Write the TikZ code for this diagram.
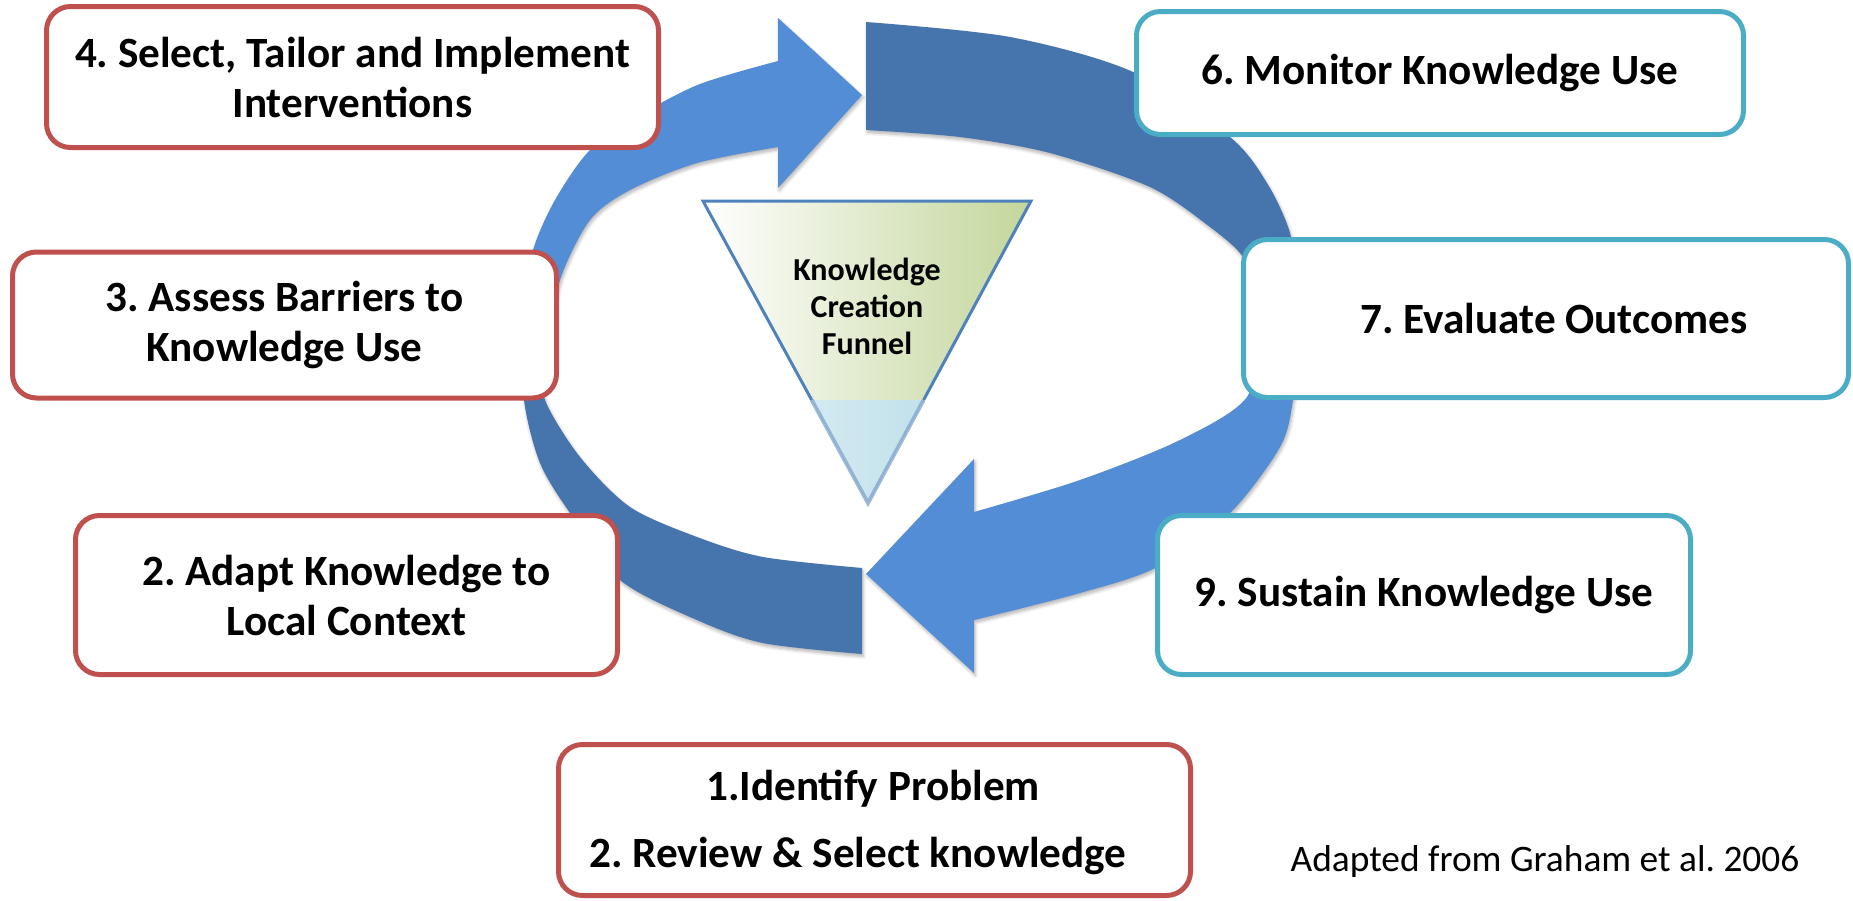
\documentclass[tikz,border=0pt]{standalone}
\usepackage{fontspec}
\setmainfont{Carlito}
\usetikzlibrary{shadows.blur}
\frenchspacing

\definecolor{arrowlight}{HTML}{538DD5}
\definecolor{arrowdark}{HTML}{4674AD}
\definecolor{boxred}{HTML}{C0504D}
\definecolor{boxcyan}{HTML}{4BACC6}
\definecolor{funnelline}{HTML}{4F81BD}
\definecolor{funnelgreen}{HTML}{C3D69B}
\definecolor{funnelblueL}{HTML}{D3EAF1}
\definecolor{funnelblueR}{HTML}{C2E1EB}
\definecolor{funnelsoft}{HTML}{86A9CF}

\tikzset{
  ringshadow/.style={blur shadow={shadow xshift=0.6pt, shadow yshift=-1.3pt,
      shadow blur radius=1.6pt, shadow blur steps=6, shadow opacity=30}},
  stagebox/.style={draw, line width=2.5pt, rounded corners=12pt, fill=white,
      align=center, inner sep=0pt,
      font=\fontsize{21.6pt}{25pt}\selectfont\bfseries},
  redbox/.style={stagebox, draw=boxred},
  cyanbox/.style={stagebox, draw=boxcyan},
  boxline/.style={inner sep=0pt, anchor=base,
      font=\fontsize{21.6pt}{25pt}\selectfont\bfseries},
  funneltext/.style={align=center, inner sep=0pt,
      font=\fontsize{16pt}{18.5pt}\selectfont\bfseries},
  note/.style={inner sep=0pt, font=\fontsize{18.7pt}{22pt}\selectfont}
}

\begin{document}
\begin{tikzpicture}[x=0.5pt, y=-0.5pt]
\useasboundingbox (0,0) rectangle (1853,900);

% ---- action cycle: four curved bands ----
% upper-left arrow, pointing right at the top
\fill[arrowlight, ringshadow]
  plot[smooth] coordinates {(525,345) (526,300) (533,250) (555,200) (590,150)
      (640,115) (700,84) (778,61)}
  -- (778,18) -- (862,95) -- (778,188) -- (778,147)
  -- plot[smooth] coordinates {(778,147) (697,163) (630,190) (590,220)
      (560,280) (550,345)}
  -- cycle;

% upper-right band
\fill[arrowdark, ringshadow]
  plot[smooth] coordinates {(866,22) (1010,37) (1133,72) (1230,137)
      (1267,183) (1290,233) (1298,290) (1299,330)}
  -- (1257,330)
  -- plot[smooth] coordinates {(1257,330) (1250,290) (1243,257) (1210,227)
      (1150,187) (1050,153) (960,137) (866,130)}
  -- cycle;

% lower-right arrow, pointing left at the bottom
\fill[arrowlight, ringshadow]
  plot[smooth] coordinates {(1299,330) (1293,400) (1280,447) (1230,513)
      (1157,567) (1080,593) (974,620)}
  -- (974,673) -- (866,574) -- (974,459) -- (974,512)
  -- plot[smooth] coordinates {(974,512) (1080,480) (1180,440) (1247,397)
      (1258,330)}
  -- cycle;

% lower-left band
\fill[arrowdark, ringshadow]
  plot[smooth] coordinates {(522,320) (524,400) (540,463) (570,513)
      (620,580) (697,620) (763,643) (862,654)}
  -- (862,568)
  -- plot[smooth] coordinates {(862,568) (763,557) (697,537) (630,507)
      (580,457) (545,400) (544,360) (548,320)}
  -- cycle;

% ---- knowledge creation funnel ----
\coordinate (ftl) at (703,201);
\coordinate (ftr) at (1031,201);
\coordinate (fml) at (811.7,400);
\coordinate (fmr) at (923.6,400);
\coordinate (fap) at (868,503);
\fill[left color=white, right color=funnelgreen] (ftl) -- (ftr) -- (fmr) -- (fml) -- cycle;
\fill[left color=funnelblueL, right color=funnelblueR] (fml) -- (fmr) -- (fap) -- cycle;
\draw[funnelline, line width=1.5] (fml) -- (ftl) -- (ftr) -- (fmr);
\draw[funnelsoft, line width=2, opacity=0.8] (fml) -- (fap) -- (fmr);
\node[funneltext] (kcf) at (867,306) {Knowledge\\Creation\\Funnel};

% ---- stage boxes ----
\node[redbox, minimum width=306pt, minimum height=70.5pt] (s4) at (352.5,77)
  {4. Select, Tailor and Implement\\Interventions};
\node[cyanbox, minimum width=303.5pt, minimum height=61.5pt] (s6) at (1440,73)
  {6. Monitor Knowledge Use};
\node[redbox, minimum width=272pt, minimum height=73pt] (s3) at (284.5,325)
  {3. Assess Barriers to\\Knowledge Use};
\node[cyanbox, minimum width=302.5pt, minimum height=79pt] (s7) at (1546,318.5)
  {\hspace*{8pt}7. Evaluate Outcomes};
\node[redbox, minimum width=271pt, minimum height=79.5pt] (s2) at (346.5,595)
  {2. Adapt Knowledge to\\Local Context};
\node[cyanbox, minimum width=266.5pt, minimum height=79.5pt] (s9) at (1424,595)
  {9. Sustain Knowledge Use};
\node[redbox, minimum width=316pt, minimum height=75.5pt] (s1) at (874.5,820) {};
\node[boxline] (s1a) at (873,800) {1.Identify Problem};
\node[boxline] (s1b) at (858,867) {2. Review \& Select knowledge};

% ---- source ----
\node[note] (src) at (1545,862) {Adapted from Graham et al. 2006};
\end{tikzpicture}
\end{document}
